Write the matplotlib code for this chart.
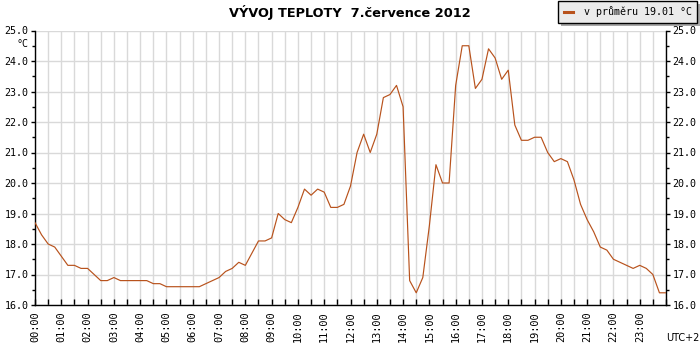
import matplotlib
matplotlib.use("Agg")
import matplotlib.pyplot as plt
import numpy as np
from matplotlib.ticker import MultipleLocator, FixedLocator, FixedFormatter

# ---- data (15-minute samples, 00:00 .. 24:00) ----
minutes = np.arange(0, 24 * 60 + 1, 15)
temps = [
    18.7, 18.3, 18.0, 17.9, 17.6, 17.3, 17.3, 17.2,   # 00:00-01:45
    17.2, 17.0, 16.8, 16.8, 16.9, 16.8, 16.8, 16.8,   # 02:00-03:45
    16.8, 16.8, 16.7, 16.7, 16.6, 16.6, 16.6, 16.6,   # 04:00-05:45
    16.6, 16.6, 16.7, 16.8, 16.9, 17.1, 17.2, 17.4,   # 06:00-07:45
    17.3, 17.7, 18.1, 18.1, 18.2, 19.0, 18.8, 18.7,   # 08:00-09:45
    19.2, 19.8, 19.6, 19.8, 19.7, 19.2, 19.2, 19.3,   # 10:00-11:45
    19.9, 21.0, 21.6, 21.0, 21.6, 22.8, 22.9, 23.2,   # 12:00-13:45
    22.5, 16.8, 16.4, 16.9, 18.6, 20.6, 20.0, 20.0,   # 14:00-15:45
    23.2, 24.5, 24.5, 23.1, 23.4, 24.4, 24.1, 23.4,   # 16:00-17:45
    23.7, 21.9, 21.4, 21.4, 21.5, 21.5, 21.0, 20.7,   # 18:00-19:45
    20.8, 20.7, 20.1, 19.3, 18.8, 18.4, 17.9, 17.8,   # 20:00-21:45
    17.5, 17.4, 17.3, 17.2, 17.3, 17.2, 17.0, 16.4,   # 22:00-23:45
    16.4,                                             # 24:00
]
hour_labels = [f"{h:02d}:00" for h in range(24)]
y_ticks = [16.0, 17.0, 18.0, 19.0, 20.0, 21.0, 22.0, 23.0, 24.0, 25.0]
title = "VÝVOJ TEPLOTY  7.července 2012"
legend_label = "v průměru 19.01 °C"

LINE = "#B8521C"
GRID = "#D9D9D9"
W, H = 700, 350

fig = plt.figure(figsize=(7, 3.5), dpi=100, facecolor="white")
ax = fig.add_axes([35 / W, 1 - 305 / H, (666 - 35) / W, (305 - 30.5) / H])

hours = minutes / 60.0
line, = ax.plot(hours, temps, color=LINE, lw=0.85, label=legend_label, zorder=3)

ax.set_xlim(0, 24)
ax.set_ylim(16, 25)

# grid
ax.xaxis.set_major_locator(FixedLocator(np.arange(24)))
ax.xaxis.set_major_formatter(FixedFormatter(hour_labels))
ax.xaxis.set_minor_locator(MultipleLocator(0.5))
ax.yaxis.set_major_locator(FixedLocator(y_ticks))
ax.yaxis.set_major_formatter(FixedFormatter([f"{v:.1f}" for v in y_ticks]))
ax.yaxis.set_minor_locator(MultipleLocator(0.5))
ax.grid(True, which="major", axis="y", color=GRID, lw=1.0)
ax.grid(True, which="both", axis="x", color=GRID, lw=1.0)
ax.set_axisbelow(True)

for s in ("left", "right", "bottom"):
    ax.spines[s].set_color("black")
    ax.spines[s].set_linewidth(1.0)
ax.spines["top"].set_visible(False)

mono = "DejaVu Sans Mono"
ax.tick_params(axis="x", which="both", direction="in", length=4, width=1,
               top=False, bottom=True, pad=4.5)
ax.tick_params(axis="x", which="major", labelrotation=90, labelsize=7.4)
ax.tick_params(axis="y", which="major", direction="out", length=3.2, width=1,
               left=True, right=True, labelleft=True, labelright=True,
               labelsize=7.2, pad=1.5)
ax.tick_params(axis="y", which="minor", direction="out", length=2.2, width=1,
               left=True, right=True)
for lab in ax.get_xticklabels() + ax.get_yticklabels():
    lab.set_fontfamily(mono)
for t in ax.yaxis.get_major_ticks():
    t.label2.set_fontfamily(mono)
    t.label2.set_fontsize(7.2)

# texts
fig.text(350 / W, 1 - 12 / H, title, ha="center", va="center",
         fontsize=9.3, fontweight="bold", family="DejaVu Sans")
fig.text(22 / W, 1 - 44 / H, "°C", ha="center", va="center",
         fontsize=7.2, family=mono)
fig.text(683 / W, 1 - 338 / H, "UTC+2", ha="center", va="center",
         fontsize=7, family="DejaVu Sans")

leg = ax.legend(handles=[line], loc="upper right",
                bbox_to_anchor=(697 / W, 1 - 1 / H), bbox_transform=fig.transFigure,
                borderaxespad=0, fancybox=False, framealpha=1,
                facecolor="#EBEBEB", edgecolor="black",
                shadow={"facecolor": "#A8A8A8", "edgecolor": "none", "alpha": 1},
                prop={"family": mono, "size": 7.2},
                handlelength=0.9, handletextpad=1.1, borderpad=0.55)
leg.get_frame().set_linewidth(1.0)
for h in leg.legend_handles:
    h.set_linewidth(2.2)

fig.savefig("out.png", dpi=100, facecolor="white")
